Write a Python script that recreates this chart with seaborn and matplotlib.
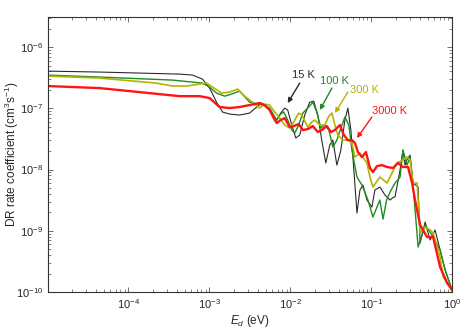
import numpy as np
import pandas as pd
import matplotlib
matplotlib.use("Agg")
import matplotlib.pyplot as plt
import matplotlib.ticker as mticker
import seaborn as sns

# ---- data ----
E_15 = [1.0e-5, 4.4e-5, 4.28e-4, 6.21e-4, 8.24e-4, 1.01e-3, 1.23e-3, 1.46e-3, 1.78e-3, 2.37e-3,
        3.15e-3, 3.85e-3, 4.44e-3, 5.26e-3, 6.07e-3, 6.81e-3, 7.62e-3, 8.55e-3, 9.31e-3, 1.045e-2,
        1.17e-2, 1.31e-2, 1.51e-2, 1.74e-2, 1.95e-2, 2.19e-2, 2.45e-2, 2.75e-2, 3.08e-2, 3.36e-2,
        3.77e-2, 4.22e-2, 4.73e-2, 5.15e-2, 5.61e-2, 6.11e-2, 6.67e-2, 7.26e-2, 7.91e-2, 8.86e-2,
        0.102, 0.111, 0.128, 0.148, 0.171, 0.186, 0.197, 0.227, 0.247, 0.262,
        0.277, 0.302, 0.329, 0.380, 0.402, 0.464, 0.534, 0.616, 0.710, 0.819,
        0.945, 1.0]
R_15 = [4.05e-7, 3.91e-7, 3.62e-7, 3.49e-7, 3.0e-7, 2.14e-7, 1.26e-7, 8.69e-8, 8.06e-8, 7.76e-8,
        8.37e-8, 1.05e-7, 1.22e-7, 1.05e-7, 7.76e-8, 6.43e-8, 8.37e-8, 1.01e-7, 9.36e-8, 5.33e-8,
        3.27e-8, 3.66e-8, 7.76e-8, 1.26e-7, 1.31e-7, 7.76e-8, 3.03e-8, 1.28e-8, 2.51e-8, 3.03e-8,
        1.18e-8, 2.08e-8, 6.43e-8, 1.01e-7, 4.42e-8, 9.81e-9, 1.95e-9, 4.63e-9, 5.59e-9, 3.18e-9,
        2.44e-9, 4.63e-9, 5.18e-9, 3.84e-9, 3.18e-9, 3.5e-9, 3.6e-9, 9.81e-9, 2.08e-8, 1.18e-8,
        1.45e-8, 1.72e-8, 6.03e-9, 5.18e-9, 6.31e-10, 1.39e-9, 7.07e-10, 1.03e-9, 4.85e-10, 2.29e-10,
        1.30e-10, 1.0e-10]

E_100 = [1.0e-5, 4.4e-5, 3.51e-4, 6.21e-4, 8.24e-4, 1.01e-3, 1.23e-3, 1.55e-3, 1.89e-3, 2.37e-3,
         3.15e-3, 4.56e-3, 5.57e-3, 6.25e-3, 6.81e-3, 7.62e-3, 8.31e-3, 9.31e-3, 1.045e-2, 1.14e-2,
         1.27e-2, 1.43e-2, 1.65e-2, 1.90e-2, 2.13e-2, 2.39e-2, 2.67e-2, 3.00e-2, 3.36e-2, 3.77e-2,
         4.22e-2, 4.73e-2, 5.30e-2, 5.78e-2, 6.67e-2, 7.68e-2, 9.12e-2, 0.105, 0.128, 0.140,
         0.155, 0.171, 0.197, 0.227, 0.247, 0.277, 0.302, 0.329, 0.380, 0.464,
         0.565, 0.710, 0.819, 1.0]
R_100 = [3.49e-7, 3.24e-7, 2.89e-7, 2.68e-7, 2.58e-7, 2.22e-7, 1.77e-7, 1.58e-7, 1.71e-7, 1.91e-7,
         1.26e-7, 1.13e-7, 1.01e-7, 7.76e-8, 6.43e-8, 8.06e-8, 8.69e-8, 6.43e-8, 4.42e-8, 3.95e-8,
         5.33e-8, 8.37e-8, 1.01e-7, 1.26e-7, 8.69e-8, 4.76e-8, 5.33e-8, 4.42e-8, 2.33e-8, 3.03e-8,
         4.76e-8, 7.20e-8, 5.33e-8, 2.08e-8, 7.55e-9, 5.59e-9, 3.18e-9, 1.68e-9, 3.18e-9, 1.55e-9,
         3.18e-9, 4.3e-9, 6.03e-9, 7.5e-9, 2.08e-8, 1.18e-8, 1.60e-8, 5.5e-9, 5.43e-10, 1.24e-9,
         8.52e-10, 4.85e-10, 2.29e-10, 1.08e-10]

E_300 = [1.0e-5, 4.4e-5, 2.22e-4, 3.51e-4, 5.22e-4, 7.57e-4, 9.25e-4, 1.10e-3, 1.42e-3, 1.78e-3,
         2.24e-3, 2.74e-3, 4.19e-3, 4.83e-3, 5.57e-3, 6.43e-3, 7.41e-3, 8.55e-3, 9.86e-3, 1.14e-2,
         1.27e-2, 1.39e-2, 1.65e-2, 1.85e-2, 2.01e-2, 2.32e-2, 2.67e-2, 3.00e-2, 3.27e-2, 3.56e-2,
         3.87e-2, 4.47e-2, 5.15e-2, 5.78e-2, 6.30e-2, 7.26e-2, 8.86e-2, 9.66e-2, 0.105, 0.128,
         0.157, 0.208, 0.247, 0.277, 0.302, 0.329, 0.369, 0.402, 0.464, 0.534,
         0.582, 0.710, 0.774, 0.945, 1.0]
R_300 = [3.36e-7, 3.12e-7, 2.58e-7, 2.31e-7, 2.31e-7, 2.49e-7, 2.58e-7, 2.22e-7, 1.77e-7, 1.84e-7,
         2.06e-7, 1.58e-7, 1.01e-7, 1.17e-7, 1.13e-7, 8.69e-8, 6.93e-8, 5.33e-8, 4.76e-8, 6.43e-8,
         8.37e-8, 7.76e-8, 4.94e-8, 5.97e-8, 6.43e-8, 5.33e-8, 5.33e-8, 7.47e-8, 8.37e-8, 5.33e-8,
         3.66e-8, 3.03e-8, 3.03e-8, 2.71e-8, 1.60e-8, 1.86e-8, 1.28e-8, 7.55e-9, 5.18e-9, 7.55e-9,
         6.03e-9, 1.28e-8, 1.43e-8, 1.60e-8, 1.43e-8, 6.03e-9, 6.03e-9, 9.18e-10, 1.15e-9, 1.03e-9,
         9.18e-10, 3.73e-10, 1.76e-10, 1.21e-10, 1.0e-10]

E_3000 = [1.0e-5, 4.4e-5, 1.37e-4, 4.28e-4, 7.57e-4, 1.01e-3, 1.34e-3, 1.78e-3, 2.37e-3, 3.15e-3,
          4.19e-3, 4.83e-3, 5.57e-3, 6.25e-3, 6.81e-3, 7.62e-3, 8.55e-3, 9.86e-3, 1.10e-2, 1.27e-2,
          1.43e-2, 1.65e-2, 1.90e-2, 2.19e-2, 2.45e-2, 2.83e-2, 3.17e-2, 3.56e-2, 4.10e-2, 4.60e-2,
          5.15e-2, 5.78e-2, 6.30e-2, 6.86e-2, 7.68e-2, 8.61e-2, 9.66e-2, 0.105, 0.118, 0.136,
          0.157, 0.186, 0.214, 0.247, 0.285, 0.320, 0.348, 0.402, 0.490, 0.582,
          0.710, 0.867, 1.0]
R_3000 = [2.31e-7, 2.14e-7, 1.84e-7, 1.58e-7, 1.58e-7, 1.47e-7, 1.05e-7, 1.01e-7, 1.05e-7, 1.13e-7,
          1.22e-7, 1.13e-7, 9.36e-8, 6.93e-8, 5.75e-8, 6.43e-8, 6.93e-8, 4.94e-8, 5.13e-8, 5.53e-8,
          4.42e-8, 4.58e-8, 5.13e-8, 4.10e-8, 4.42e-8, 5.13e-8, 4.10e-8, 4.42e-8, 5.33e-8, 3.66e-8,
          3.03e-8, 3.03e-8, 2.71e-8, 1.93e-8, 1.60e-8, 1.93e-8, 1.06e-8, 9.1e-9, 1.14e-8, 1.18e-8,
          1.10e-8, 1.06e-8, 1.28e-8, 1.10e-8, 1.10e-8, 6.03e-9, 3.18e-9, 1.24e-9, 7.91e-10, 7.91e-10,
          2.56e-10, 1.40e-10, 1.08e-10]

labels = ["15 K", "100 K", "300 K", "3000 K"]
x_major = [1e-4, 1e-3, 1e-2, 1e-1, 1.0]
y_major = [1e-10, 1e-9, 1e-8, 1e-7, 1e-6]

series = {"15 K": (E_15, R_15), "100 K": (E_100, R_100),
          "300 K": (E_300, R_300), "3000 K": (E_3000, R_3000)}

frames = []
for lab in labels:
    e, r = series[lab]
    frames.append(pd.DataFrame({"E": e, "rate": r, "T": lab}))
df = pd.concat(frames, ignore_index=True)

colors = {"15 K": "#2a2a2a", "100 K": "#1e8c1e", "300 K": "#b4b400", "3000 K": "#ff1414"}
widths = {"15 K": 0.8, "100 K": 1.0, "300 K": 1.2, "3000 K": 1.7}

sns.set_style("ticks")
plt.rcParams["font.family"] = ["Liberation Sans", "DejaVu Sans"]
plt.rcParams["mathtext.fontset"] = "custom"
plt.rcParams["mathtext.rm"] = "Liberation Sans"
plt.rcParams["mathtext.it"] = "Liberation Sans:italic"

fig = plt.figure(figsize=(4.71, 3.33), dpi=100)
ax = fig.add_axes([0.102, 0.123, 0.858, 0.826])

for lab in labels:
    sub = df[df["T"] == lab]
    sns.lineplot(data=sub, x="E", y="rate", ax=ax, color=colors[lab],
                 linewidth=widths[lab], sort=False, estimator=None, legend=False)

ax.set_xscale("log")
ax.set_yscale("log")
xmin, xmax, ymin, ymax = 1.02e-5, 1.0, 1e-10, 3.1e-6
ax.set_xlim(xmin, xmax)
ax.set_ylim(ymin, ymax)

x_minor = [m * 10.0 ** k for k in range(-5, 0) for m in range(2, 10) if xmin < m * 10.0 ** k < xmax]
y_minor = [m * 10.0 ** k for k in range(-10, -5) for m in range(2, 10) if ymin < m * 10.0 ** k < ymax]
ax.xaxis.set_major_locator(mticker.FixedLocator(x_major))
ax.xaxis.set_minor_locator(mticker.FixedLocator(x_minor))
ax.yaxis.set_major_locator(mticker.FixedLocator(y_major))
ax.yaxis.set_minor_locator(mticker.FixedLocator(y_minor))
ax.xaxis.set_major_formatter(mticker.LogFormatterSciNotation())
ax.yaxis.set_major_formatter(mticker.LogFormatterSciNotation())
ax.xaxis.set_minor_formatter(mticker.NullFormatter())
ax.yaxis.set_minor_formatter(mticker.NullFormatter())

ax.tick_params(which="both", direction="in", top=True, right=True, labelsize=8, color="#555555")
ax.tick_params(which="major", length=3.5, width=0.6)
ax.tick_params(which="minor", length=2, width=0.5)
for s in ax.spines.values():
    s.set_linewidth(0.8)
    s.set_color("#333333")

ax.set_xlabel(r"$\mathit{E_d}$ (eV)", fontsize=8.5)
ax.set_ylabel(r"DR rate coefficient (cm$^{3}$s$^{-1}$)", fontsize=8.5)
ax.xaxis.set_label_coords(0.5, -0.075)
ax.yaxis.set_label_coords(-0.066, 0.5)

ann = [
    ("15 K", (1.47e-2, 3.49e-7), (1.31e-2, 2.58e-7), (9.3e-3, 1.22e-7)),
    ("100 K", (3.56e-2, 2.80e-7), (3.27e-2, 2.14e-7), (2.32e-2, 9.36e-8)),
    ("300 K", (8.37e-2, 1.99e-7), (5.15e-2, 1.84e-7), (3.56e-2, 8.37e-8)),
    ("3000 K", (0.171, 9.0e-8), (0.102, 7.2e-8), (6.67e-2, 3.27e-8)),
]
for lab, tpos, tail, head in ann:
    ax.text(tpos[0], tpos[1], lab, color=colors[lab], fontsize=8, ha="center", va="center")
    ax.annotate("", xy=head, xytext=tail,
                arrowprops=dict(arrowstyle="-|>", color=colors[lab], lw=1.0,
                                mutation_scale=7, shrinkA=0, shrinkB=0))

fig.savefig("out.png", dpi=100)
